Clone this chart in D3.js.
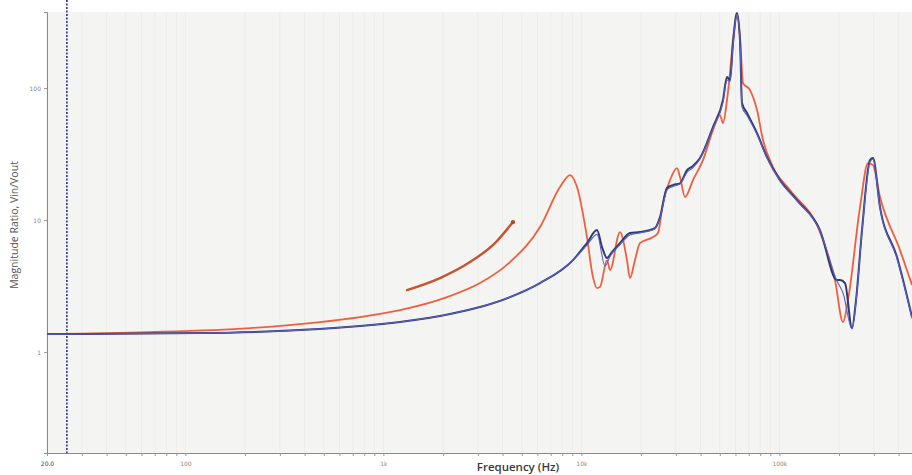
<!DOCTYPE html>
<html>
<head>
<meta charset="utf-8">
<script src="https://cdn.jsdelivr.net/npm/d3@7/dist/d3.min.js"></script>
<style>
  html, body { margin: 0; padding: 0; background: #ffffff; }
  svg { display: block; }
</style>
</head>
<body>
<svg id="chart" width="912" height="475"></svg>
<script>
// Frequency response: magnitude ratio Vin/Vout versus frequency (log-log)

// Measured response (red)
const redFreq = [20, 66.3, 212, 478, 762, 1213, 2096, 3075, 4360, 6180, 7797, 8760, 9502, 10670, 11440, 11990, 12410, 13470, 13950, 15660, 16990, 17600, 18650, 19760, 22990, 24370, 25830, 28020, 30400, 31480, 33370, 36610, 41130, 46190, 50120, 51890, 54370, 56310, 58300, 61070, 63240, 65500, 71050, 77090, 82630, 92830, 113100, 160300, 190900, 209600, 222100, 255400, 280200, 296900, 322300, 406600, 467500];
const redMag = [1.369, 1.417, 1.520, 1.688, 1.842, 2.081, 2.610, 3.332, 4.806, 8.851, 17.78, 21.93, 17.78, 7.432, 3.700, 3.054, 3.108, 4.977, 4.181, 8.111, 4.977, 3.636, 4.977, 6.695, 7.432, 7.971, 13.45, 20.09, 24.77, 21.18, 14.94, 20.09, 28.48, 48.07, 62.45, 54.30, 81.13, 129.9, 231.0, 345.1, 243.5, 109.1, 96.57, 68.13, 40.37, 25.21, 16.88, 8.111, 3.511, 1.688, 2.477, 12.55, 27.03, 26.10, 14.94, 5.926, 3.218];

// Model response (navy)
const navyFreq = [20, 118.5, 379, 1213, 2170, 3075, 4360, 6180, 9070, 10670, 11990, 12710, 13470, 14270, 15660, 17600, 19760, 23530, 24950, 27060, 29010, 31480, 34150, 36610, 39720, 46190, 51890, 54370, 56310, 58300, 61070, 63240, 64730, 68620, 77090, 86560, 100700, 122700, 160300, 195400, 202400, 214500, 232700, 243800, 261400, 286800, 296900, 322300, 392600, 467500];
const navyMag = [1.369, 1.393, 1.468, 1.688, 1.941, 2.193, 2.610, 3.332, 4.977, 6.695, 8.400, 6.245, 5.154, 5.722, 6.695, 7.971, 8.111, 8.699, 10.54, 17.48, 18.42, 19.0, 23.93, 25.66, 29.49, 50.65, 81.13, 121.2, 115.0, 219.3, 370.0, 231.0, 76.98, 64.67, 45.62, 30.01, 20.09, 14.18, 8.400, 3.511, 3.511, 3.332, 1.520, 2.477, 8.400, 28.48, 29.49, 12.55, 5.245, 1.842];

// Corrected model (blue)
const blueFreq = [20, 118.5, 379, 1213, 2170, 3075, 4360, 6180, 9070, 10670, 11990, 13160, 13950, 15660, 17600, 19760, 23530, 24950, 27060, 29010, 31480, 34150, 36610, 39720, 46190, 51890, 54370, 56310, 58300, 61070, 63240, 64730, 68620, 77090, 86560, 100700, 122700, 160300, 195400, 209600, 232700, 243800, 261400, 286800, 296900, 322300, 392600, 467500];
const blueMag = [1.369, 1.393, 1.468, 1.688, 1.941, 2.193, 2.610, 3.332, 4.977, 6.45, 7.80, 4.50, 5.30, 6.50, 7.70, 8.00, 8.60, 10.30, 16.90, 18.00, 18.80, 23.00, 25.00, 29.00, 49.50, 78.00, 115.0, 112.0, 210.0, 360.0, 225.0, 72.00, 62.00, 44.50, 29.50, 19.80, 14.00, 8.30, 3.45, 2.80, 1.50, 2.40, 8.20, 27.50, 29.00, 12.30, 5.10, 1.80];

// Annotation: shift of the low resonance
const shiftFreq = [1316, 1932, 2738, 3661, 4512];
const shiftMag = [2.949, 3.636, 4.806, 6.695, 9.656];

// Marker frequency (dashed vertical)
const markerFreq = 25.2;

// Axis ticks
const xTickValues = [20, 100, 1000, 10000, 100000];
const xTickLabels = ["20.0", "100", "1k", "10k", "100k"];
const yTickValues = [1, 10, 100];
const yTickLabels = ["1", "10", "100"];

const svg = d3.select("#chart");
const W = 912, H = 475;
const m = { left: 47, right: 0, top: 12, bottom: 22 };
const plotW = W - m.left - m.right;
const plotH = H - m.top - m.bottom;

const x = d3.scaleLog().domain([20, 467500]).range([m.left, m.left + plotW]);
const y = d3.scaleLog().domain([0.172, 377]).range([m.top + plotH, m.top]);

// plot background
svg.append("rect")
  .attr("x", m.left).attr("y", m.top)
  .attr("width", plotW).attr("height", plotH)
  .attr("fill", "#f4f4f3");

// faint vertical gridlines at every log step
const minorX = [];
for (let e = 1; e <= 5; e++) {
  for (let k = 1; k <= 9; k++) {
    const v = k * Math.pow(10, e);
    if (v >= 20 && v <= 467500) minorX.push(v);
  }
}
svg.append("g").selectAll("line").data(minorX).join("line")
  .attr("x1", d => x(d)).attr("x2", d => x(d))
  .attr("y1", m.top).attr("y2", m.top + plotH)
  .attr("stroke", "#ececea").attr("stroke-width", 1);

// axes
const xAxis = d3.axisBottom(x)
  .tickValues(minorX.concat([20]))
  .tickSize(3)
  .tickFormat(d => {
    const i = xTickValues.indexOf(d);
    return i >= 0 ? xTickLabels[i] : "";
  });
const gx = svg.append("g")
  .attr("transform", `translate(0,${m.top + plotH})`)
  .call(xAxis);
gx.select(".domain").attr("stroke", "#8a8a8a");
gx.selectAll(".tick line").attr("stroke", "#9a9a9a");
gx.selectAll(".tick text").attr("fill", "#888").attr("font-size", 6)
  .attr("font-family", "DejaVu Sans, sans-serif").attr("dy", "1.1em");

const yAxis = d3.axisLeft(y)
  .tickValues(yTickValues)
  .tickSize(3)
  .tickFormat((d, i) => yTickLabels[i]);
const gy = svg.append("g")
  .attr("transform", `translate(${m.left},0)`)
  .call(yAxis);
gy.select(".domain").attr("stroke", "#8a8a8a");
gy.selectAll(".tick line").attr("stroke", "#9a9a9a");
gy.selectAll(".tick text").attr("fill", "#888").attr("font-size", 6)
  .attr("font-family", "DejaVu Sans, sans-serif");

// marker line
svg.append("line")
  .attr("x1", x(markerFreq)).attr("x2", x(markerFreq))
  .attr("y1", 0).attr("y2", m.top + plotH)
  .attr("stroke", "#2d2f9a").attr("stroke-width", 1.6)
  .attr("stroke-dasharray", "2,1.5");

// curves
const line = (fs, ms) => d3.line()
  .x((d, i) => x(fs[i]))
  .y(d => y(d))
  .curve(d3.curveMonotoneX)(ms);

svg.append("clipPath").attr("id", "clip")
  .append("rect").attr("x", m.left).attr("y", 0)
  .attr("width", plotW).attr("height", m.top + plotH);

const curves = svg.append("g").attr("clip-path", "url(#clip)");

curves.append("path")
  .attr("d", line(redFreq, redMag))
  .attr("fill", "none").attr("stroke", "#ef5f3e").attr("stroke-width", 1.8)
  .attr("stroke-linejoin", "round");

curves.append("path")
  .attr("d", line(navyFreq, navyMag))
  .attr("fill", "none").attr("stroke", "#2e3a6e").attr("stroke-width", 2)
  .attr("stroke-linejoin", "round");

curves.append("path")
  .attr("d", line(blueFreq, blueMag))
  .attr("fill", "none").attr("stroke", "#5a5fc4").attr("stroke-width", 1.1)
  .attr("stroke-linejoin", "round");

// shift annotation
curves.append("path")
  .attr("d", line(shiftFreq, shiftMag))
  .attr("fill", "none").attr("stroke", "#c4552e").attr("stroke-width", 2.4)
  .attr("stroke-linecap", "round");
curves.append("circle")
  .attr("cx", x(shiftFreq[shiftFreq.length - 1]))
  .attr("cy", y(shiftMag[shiftMag.length - 1]))
  .attr("r", 2.2).attr("fill", "#b4472a");

// axis titles
svg.append("text")
  .attr("x", 518).attr("y", 471)
  .attr("text-anchor", "middle")
  .attr("font-family", "Open Sans, DejaVu Sans, sans-serif")
  .attr("font-size", 11.5).attr("font-weight", 600)
  .attr("fill", "#3a3a3a")
  .text("Frequency (Hz)");

svg.append("text")
  .attr("transform", "translate(18,225) rotate(-90)")
  .attr("text-anchor", "middle")
  .attr("font-family", "Open Sans, DejaVu Sans, sans-serif")
  .attr("font-size", 10.5)
  .attr("fill", "#555")
  .text("Magnitude Ratio, Vin/Vout");
</script>
</body>
</html>
